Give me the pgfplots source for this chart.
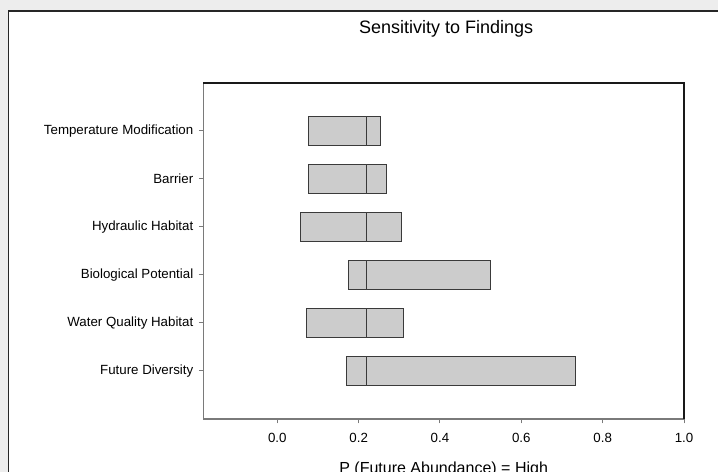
\documentclass[border=0pt]{standalone}
\usepackage{fontspec}
\setmainfont{Liberation Sans}
\usepackage{pgfplots}
\pgfplotsset{compat=1.18}
\usepgfplotslibrary{statistics}
\definecolor{bg}{HTML}{EDEDED}
\definecolor{boxfill}{HTML}{CCCCCC}
\definecolor{boxedge}{HTML}{3A3A3A}
\definecolor{axgray}{HTML}{7A7A7A}
\begin{document}
\begin{tikzpicture}
\useasboundingbox (0,0) rectangle (718bp,472bp);
\clip (0,0) rectangle (718bp,472bp);
\fill[bg] (0,0) rectangle (718bp,472bp);
\draw[fill=white, draw=black!85, line width=1.5bp] (8.5bp,461bp) rectangle (760bp,-40bp);
\begin{axis}[
  at={(203.3bp,53bp)}, anchor=south west,
  scale only axis, width=480.7bp, height=336bp,
  xmin=-0.182, xmax=1.0, ymin=0, ymax=7,
  clip=false,
  xtick={0,0.2,0.4,0.6,0.8,1.0},
  xticklabels={0.0,0.2,0.4,0.6,0.8,1.0},
  ytick={1,2,3,4,5,6},
  yticklabels={Future Diversity,Water Quality Habitat,Biological Potential,Hydraulic Habitat,Barrier,Temperature Modification},
  /pgf/number format/assume math mode=true,
  tick align=outside, xtick pos=lower, ytick pos=left,
  major tick length=4.5bp,
  tick style={draw=axgray, line width=1bp},
  axis line style={draw=axgray, line width=1.3bp},
  ticklabel style={font=\fontsize{13.3bp}{15bp}\selectfont},
  xticklabel style={yshift=-6bp},
  yticklabel style={xshift=-2bp},
  title={Sensitivity to Findings},
  title style={font=\fontsize{18bp}{20bp}\selectfont, at={(axis description cs:0.5,1)}, anchor=base, yshift=43.5bp, xshift=2.5bp},
  xlabel={P (Future Abundance) = High},
  xlabel style={font=\fontsize{16bp}{18bp}\selectfont, at={(axis description cs:0.5,0)}, anchor=base, yshift=-54bp},
]
% Temperature Modification
\addplot[fill=boxfill, draw=boxedge, line width=1bp,
  boxplot prepared={draw position=6, lower whisker=0.076, lower quartile=0.076, median=0.22, upper quartile=0.254, upper whisker=0.254, box extend=0.604, whisker extend=0}] coordinates {};
% Barrier
\addplot[fill=boxfill, draw=boxedge, line width=1bp,
  boxplot prepared={draw position=5, lower whisker=0.076, lower quartile=0.076, median=0.22, upper quartile=0.268, upper whisker=0.268, box extend=0.604, whisker extend=0}] coordinates {};
% Hydraulic Habitat
\addplot[fill=boxfill, draw=boxedge, line width=1bp,
  boxplot prepared={draw position=4, lower whisker=0.057, lower quartile=0.057, median=0.22, upper quartile=0.305, upper whisker=0.305, box extend=0.604, whisker extend=0}] coordinates {};
% Biological Potential
\addplot[fill=boxfill, draw=boxedge, line width=1bp,
  boxplot prepared={draw position=3, lower whisker=0.176, lower quartile=0.176, median=0.22, upper quartile=0.525, upper whisker=0.525, box extend=0.604, whisker extend=0}] coordinates {};
% Water Quality Habitat
\addplot[fill=boxfill, draw=boxedge, line width=1bp,
  boxplot prepared={draw position=2, lower whisker=0.072, lower quartile=0.072, median=0.22, upper quartile=0.310, upper whisker=0.310, box extend=0.604, whisker extend=0}] coordinates {};
% Future Diversity
\addplot[fill=boxfill, draw=boxedge, line width=1bp,
  boxplot prepared={draw position=1, lower whisker=0.169, lower quartile=0.169, median=0.22, upper quartile=0.734, upper whisker=0.734, box extend=0.604, whisker extend=0}] coordinates {};
\draw[black!90, line width=1.3bp] (rel axis cs:0,1) -- (rel axis cs:1,1) -- (rel axis cs:1,0);
\end{axis}
\end{tikzpicture}
\end{document}
